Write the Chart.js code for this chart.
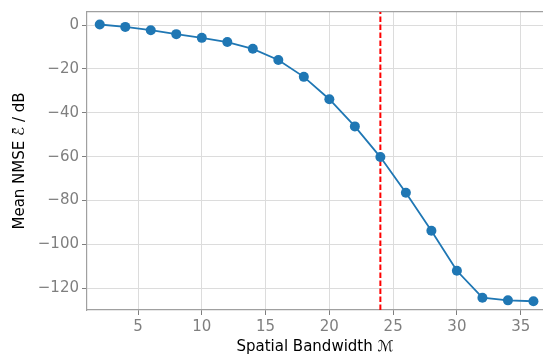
<!DOCTYPE html>
<html lang="en">
  <head>
    <meta charset="UTF-8" />
    <title>Mean NMSE vs Spatial Bandwidth</title>
    <script src="https://cdn.jsdelivr.net/npm/chart.js"></script>
    <style>
      html, body { margin: 0; padding: 0; background: #fff; overflow: hidden; }
      /* a few px wider than the window so the plot runs to the right edge */
      #wrap { width: 548px; height: 356px; }
    </style>
  </head>
  <body>
    <div id="wrap"><canvas id="nmseChart"></canvas></div>
    <script>
      // Data
      const bandwidth = [2, 4, 6, 8, 10, 12, 14, 16, 18, 20, 22, 24, 26, 28, 30, 32, 34, 36];
      const nmseDb = [0.3, -0.8, -2.3, -4.1, -5.8, -7.7, -10.8, -15.9, -23.6, -33.8, -46.2, -60.2, -76.5, -93.8, -112.1, -124.4, -125.6, -126.0];
      const markerBandwidth = 24;
      const xTicks = [5, 10, 15, 20, 25, 30, 35];
      const yTicks = [0, -20, -40, -60, -80, -100, -120];

      const xMin = 1, xMax = 36.75;
      const yMin = -130, yMax = 6;

      const gray = "#7f7f7f";
      const font = { family: "DejaVu Sans", size: 15 };

      const ctx = document.getElementById("nmseChart").getContext("2d");
      new Chart(ctx, {
        type: "line",
        data: {
          datasets: [
            {
              label: "NMSE",
              data: bandwidth.map((b, i) => ({ x: b, y: nmseDb[i] })),
              borderColor: "#1f77b4",
              backgroundColor: "#1f77b4",
              borderWidth: 1.8,
              pointRadius: 5,
              pointHoverRadius: 5,
              pointBorderWidth: 0,
              fill: false,
            },
            {
              label: "marker",
              data: [{ x: markerBandwidth, y: yMin }, { x: markerBandwidth, y: yMax }],
              borderColor: "red",
              borderWidth: 2,
              borderDash: [5.5, 2.5],
              pointRadius: 0,
              fill: false,
            },
          ],
        },
        options: {
          responsive: true,
          maintainAspectRatio: false,
          animation: false,
          layout: { padding: { top: 12, right: 0, left: 0, bottom: 0 } },
          plugins: { legend: { display: false }, tooltip: { enabled: false } },
          scales: {
            x: {
              type: "linear",
              min: xMin,
              max: xMax,
              afterBuildTicks: (s) => { s.ticks = xTicks.map((v) => ({ value: v })); },
              afterFit: (s) => { s.height = 46; s.paddingLeft = 0; s.paddingRight = 0; },
              ticks: { color: gray, font: font, padding: 3, maxRotation: 0 },
              grid: { color: "#dcdcdc", lineWidth: 1, tickColor: gray, tickLength: 5 },
              border: { color: "#a0a0a0", width: 1.2 },
              title: {
                display: true,
                text: "Spatial Bandwidth \u2133",
                color: "#000",
                font: font,
                padding: { top: 1, bottom: 0 },
              },
            },
            xTop: {
              type: "linear",
              position: "top",
              min: xMin,
              max: xMax,
              ticks: { display: false },
              grid: { display: false, drawTicks: false },
              border: { display: true, color: "#a0a0a0", width: 1.2 },
              afterFit: (s) => { s.height = 0; s.paddingLeft = 0; s.paddingRight = 0; },
            },
            y: {
              type: "linear",
              min: yMin,
              max: yMax,
              afterBuildTicks: (s) => { s.ticks = yTicks.map((v) => ({ value: v })); },
              afterFit: (s) => { s.width = 87; },
              ticks: {
                color: gray,
                font: font,
                padding: 3,
                callback: (v) => String(v).replace("-", "\u2212"),
              },
              grid: { color: "#dcdcdc", lineWidth: 1, tickColor: gray, tickLength: 5 },
              border: { color: "#a0a0a0", width: 1.2 },
              title: {
                display: true,
                text: "Mean NMSE \u2130\u0304 / dB",
                color: "#000",
                font: font,
                padding: { top: 11, bottom: 0 },
              },
            },
          },
        },
      });
    </script>
  </body>
</html>
